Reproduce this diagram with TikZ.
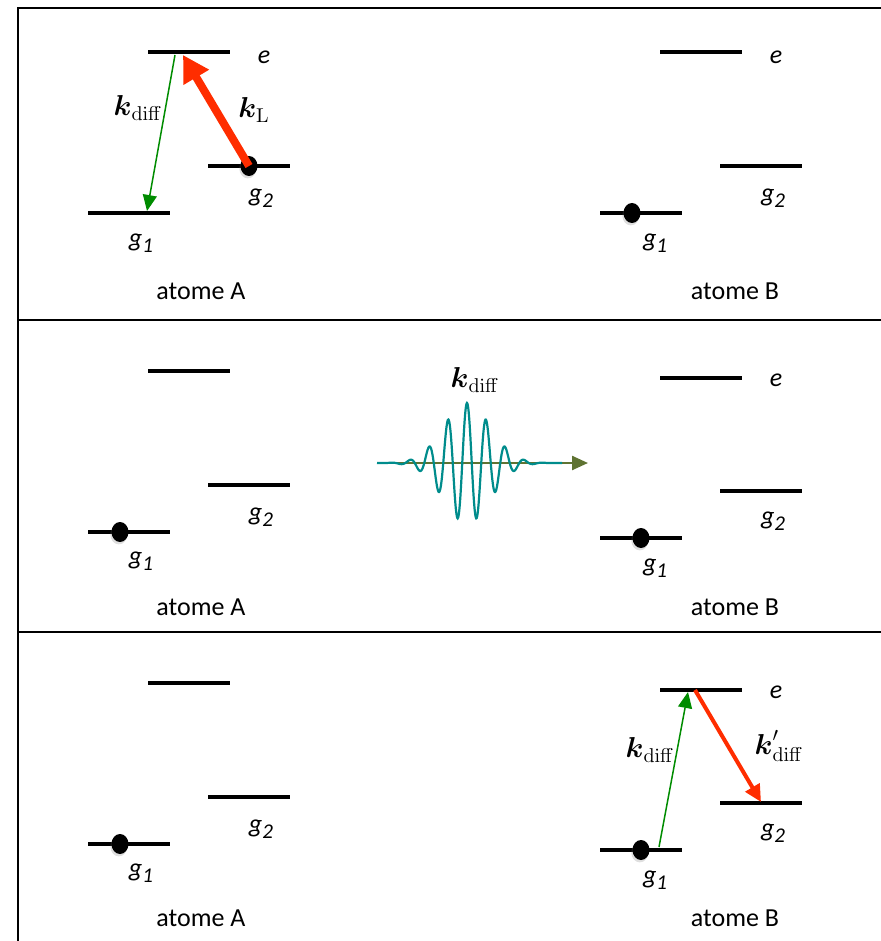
\documentclass[tikz,border=0pt]{standalone}
\usepackage{amsmath,amssymb}
\usepackage[no-math]{fontspec}
\setmainfont{Carlito}
\usetikzlibrary{arrows.meta, shapes.geometric, shadows}

\definecolor{laserred}{RGB}{255,45,0}
\definecolor{diffgreen}{RGB}{0,140,0}
\definecolor{wavecyan}{RGB}{0,140,140}
\definecolor{olive}{RGB}{95,115,50}

\newcommand{\gsub}[1]{\textit{g}\raisebox{-0.45ex}{\fontsize{10.5}{11}\selectfont\itshape #1}}

\tikzset{
    level/.style={fill=black, inner sep=0pt, minimum width=41pt, minimum height=1.8pt},
    dot/.style={ellipse, fill=black, inner sep=0pt, minimum width=8.5pt, minimum height=10pt,
        drop shadow={opacity=0.25, shadow xshift=-0.6pt, shadow yshift=-1.2pt}},
    lab/.style={font=\fontsize{13}{15}\selectfont\itshape},
    kvec/.style={font=\fontsize{14.5}{16}\selectfont},
    frame/.style={line width=1pt}
}

\begin{document}
\begin{tikzpicture}[x=0.5pt, y=-0.5pt, font=\fontsize{13}{15}\selectfont, >=Triangle]
    \useasboundingbox (0,0) rectangle (881,941);
    % cadre
    \draw[frame] (18,941) -- (18,8) -- (881,8);
    \draw[frame] (18,320) -- (881,320);
    \draw[frame] (18,632) -- (881,632);

    % ---- etape 1 ----
    \node[level] (eA1) at (189,52) {};
    \node[level] (gbA1) at (249,166) {};
    \node[level] (gaA1) at (129,213) {};
    \node[lab] at (264,57) {e};
    \node[lab] at (261,198) {\gsub{2}};
    \node[lab] at (141,243) {\gsub{1}};
    \node[dot] (dotA1) at (249,166) {};
    \coordinate (tipL) at (183,55);
    \coordinate (startD) at (175,55);
    \coordinate (endD) at (147,211);
    \draw[laserred, line width=4pt, -{Triangle[length=13pt,width=14pt]}] (dotA1.center) -- (tipL);
    \draw[diffgreen, line width=0.75pt, -{Triangle[length=8pt,width=7pt]}] (startD) -- (endD);
    \node[kvec] at (138,108) {$\boldsymbol{k}_{\mathrm{diff}}$};
    \node[kvec] at (254,110) {$\boldsymbol{k}_{\mathrm{L}}$};

    \node[level] (eB1) at (701,52) {};
    \node[level] (gbB1) at (761,166) {};
    \node[level] (gaB1) at (641,213) {};
    \node[dot] (dotB1) at (632,213) {};
    \node[lab] at (776,57) {e};
    \node[lab] at (773,198) {\gsub{2}};
    \node[lab] at (655,243) {\gsub{1}};
    \node at (201,291) {atome A};
    \node at (735,291) {atome B};

    % ---- etape 2 ----
    \node[level] (eA2) at (189,371) {};
    \node[level] (gbA2) at (249,485) {};
    \node[level] (gaA2) at (129,532) {};
    \node[dot] (dotA2) at (120,532) {};
    \node[lab] at (261,517) {\gsub{2}};
    \node[lab] at (141,561) {\gsub{1}};

    \node[level] (eB2) at (701,378) {};
    \node[level] (gbB2) at (761,491) {};
    \node[level] (gaB2) at (641,538) {};
    \node[dot] (dotB2) at (641,538) {};
    \node[lab] at (776,380) {e};
    \node[lab] at (773,521) {\gsub{2}};
    \node[lab] at (655,568) {\gsub{1}};
    \node at (201,607) {atome A};
    \node at (735,607) {atome B};

    \coordinate (waveL) at (377,463);
    \coordinate (waveR) at (588,463);
    \draw[olive, line width=1.2pt, -{Triangle[length=8pt,width=7pt]}] (waveL) -- (waveR);
    \draw[wavecyan, line width=1.1pt, domain=377:562, samples=400, smooth]
        plot (\x, {463 - 60*exp(-((\x-467)/33.2)^2)*cos(((\x-467)/19)*360)});
    \node[kvec] (kwave) at (475,380) {$\boldsymbol{k}_{\mathrm{diff}}$};

    % ---- etape 3 ----
    \node[level] (eA3) at (189,683) {};
    \node[level] (gbA3) at (249,797) {};
    \node[level] (gaA3) at (129,844) {};
    \node[dot] (dotA3) at (120,844) {};
    \node[lab] at (261,829) {\gsub{2}};
    \node[lab] at (141,873) {\gsub{1}};

    \node[level] (eB3) at (701,690) {};
    \node[level] (gbB3) at (761,803) {};
    \node[level] (gaB3) at (641,850) {};
    \node[dot] (dotB3) at (641,850) {};
    \node[lab] at (776,692) {e};
    \node[lab] at (773,833) {\gsub{2}};
    \node[lab] at (655,880) {\gsub{1}};
    \coordinate (absS) at (659,847);
    \coordinate (absE) at (688,692);
    \coordinate (emS) at (695,690);
    \coordinate (emE) at (761,802);
    \draw[diffgreen, line width=0.75pt, -{Triangle[length=8pt,width=7pt]}] (absS) -- (absE);
    \draw[laserred, line width=2pt, -{Triangle[length=8.5pt,width=8pt]}] (emS) -- (emE);
    \node[kvec] at (650,750) {$\boldsymbol{k}_{\mathrm{diff}}$};
    \node[kvec] at (779,746) {$\boldsymbol{k}'_{\mathrm{diff}}$};
    \node at (201,918) {atome A};
    \node at (735,918) {atome B};
\end{tikzpicture}
\end{document}
